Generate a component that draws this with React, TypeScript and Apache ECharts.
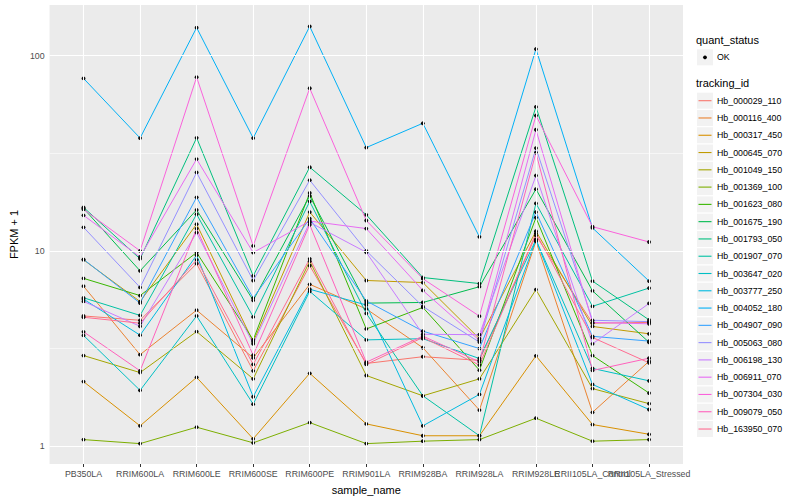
import { useEffect, useRef } from "react";
import * as echarts from "echarts";

const categories = [
  "PB350LA", "RRIM600LA", "RRIM600LE", "RRIM600SE", "RRIM600PE", "RRIM901LA",
  "RRIM928BA", "RRIM928LA", "RRIM928LE", "RRII105LA_Control", "RRII105LA_Stressed",
];

const trackingIds = [
  "Hb_000029_110", "Hb_000116_400", "Hb_000317_450", "Hb_000645_070", "Hb_001049_150",
  "Hb_001369_100", "Hb_001623_080", "Hb_001675_190", "Hb_001793_050", "Hb_001907_070",
  "Hb_003647_020", "Hb_003777_250", "Hb_004052_180", "Hb_004907_090", "Hb_005063_080",
  "Hb_006198_130", "Hb_006911_070", "Hb_007304_030", "Hb_009079_050", "Hb_163950_070",
];

const colors = [
  "#F8766D", "#EA8331", "#D89000", "#C09B00", "#A3A500", "#7CAE00", "#39B600", "#00BB4E",
  "#00BF7D", "#00C1A3", "#00BFC4", "#00BAE0", "#00B0F6", "#35A2FF", "#9590FF", "#C77CFF",
  "#E76BF3", "#FA62DB", "#FF62BC", "#FF6C91",
];

// FPKM + 1 per tracking id, in category order
const hb000029 = [4.64, 4.41, 8.6, 2.43, 8.4, 2.65, 2.87, 2.75, 12.0, 4.26, 4.3];
const hb000116 = [6.59, 2.94, 4.97, 2.83, 6.74, 5.04, 3.19, 1.53, 11.2, 1.49, 2.72];
const hb000317 = [2.14, 1.27, 2.25, 1.09, 2.36, 1.3, 1.13, 1.13, 2.9, 1.29, 1.15];
const hb000645 = [9.0, 5.5, 13.7, 3.42, 15.8, 7.05, 6.88, 3.55, 12.6, 4.1, 3.76];
const hb001049 = [2.91, 2.38, 3.86, 2.21, 8.85, 2.3, 1.81, 2.21, 6.33, 1.97, 1.65];
const hb001369 = [1.08, 1.03, 1.25, 1.04, 1.32, 1.03, 1.06, 1.08, 1.39, 1.06, 1.08];
const hb001623 = [7.23, 5.9, 9.8, 3.5, 19.8, 3.98, 5.13, 2.45, 14.8, 2.91, 1.87];
const hb001675 = [16.5, 7.9, 16.2, 5.58, 19.1, 5.4, 5.44, 6.55, 20.7, 6.24, 3.4];
const hb001793 = [16.7, 9.1, 37.9, 7.45, 26.8, 15.3, 7.3, 6.8, 54.6, 7.0, 4.43];
const hb001907 = [5.75, 4.67, 15.4, 4.59, 17.9, 4.78, 1.81, 1.13, 17.5, 5.2, 6.45];
const hb003647 = [3.69, 1.93, 4.64, 1.64, 6.2, 3.5, 3.55, 2.81, 11.4, 2.5, 2.16];
const hb003777 = [5.66, 3.7, 9.5, 1.79, 6.36, 5.28, 1.27, 1.84, 11.4, 2.07, 1.54];
const hb004052 = [76.4, 37.8, 139, 37.8, 141, 33.8, 45, 11.8, 108, 13.1, 7.0];
const hb004907 = [9.04, 5.4, 18.8, 5.73, 14.6, 5.54, 3.88, 3.16, 15.8, 3.65, 3.45];
const hb005063 = [13.2, 6.5, 25.2, 7.05, 23.0, 10.0, 5.19, 3.41, 33.6, 4.41, 4.34];
const hb006198 = [5.51, 4.11, 12.4, 3.34, 14.0, 9.83, 3.74, 3.72, 24.3, 3.34, 5.38];
const hb006911 = [15.2, 9.3, 29.5, 9.8, 14.2, 13.0, 6.27, 3.48, 41.7, 4.3, 4.23];
const hb007304 = [16.3, 10.0, 77.5, 10.6, 68, 14.3, 7.2, 4.63, 49.3, 13.3, 11.1];
const hb009079 = [3.85, 2.43, 13.0, 2.92, 13.6, 2.69, 3.66, 2.7, 31.8, 2.44, 2.82];
const hb163950 = [4.57, 4.26, 9.0, 2.62, 9.1, 2.62, 3.6, 2.6, 12.3, 3.6, 2.67];

const seriesValues = [
  hb000029, hb000116, hb000317, hb000645, hb001049, hb001369, hb001623, hb001675,
  hb001793, hb001907, hb003647, hb003777, hb004052, hb004907, hb005063, hb006198,
  hb006911, hb007304, hb009079, hb163950,
];

const yTicks = [1, 10, 100];
const yMinor = [3.1623, 31.623];

const FONT = '"Liberation Sans", Arial, Helvetica, sans-serif';

export default function App() {
  const ref = useRef<HTMLDivElement>(null);

  useEffect(() => {
    if (!ref.current) return;
    const chart = echarts.init(ref.current, undefined, { renderer: "svg" });

    const catIdx = categories.map((_, i) => i);
    const evenIdx = catIdx.filter((i) => i % 2 === 0);
    const oddIdx = catIdx.filter((i) => i % 2 === 1);

    const gridSeries: any = {
      type: "line",
      data: [],
      silent: true,
      z: 1,
      markLine: {
        silent: true,
        symbol: "none",
        label: { show: false },
        animation: false,
        data: [
          ...yTicks.map((v) => ({ yAxis: v, lineStyle: { color: "#FFFFFF", width: 1.1, type: "solid" } })),
          ...yMinor.map((v) => ({ yAxis: v, lineStyle: { color: "#FFFFFF", width: 0.55, type: "solid" } })),
          ...catIdx.map((i) => ({ xAxis: i, lineStyle: { color: "#FFFFFF", width: 1.1, type: "solid" } })),
        ],
      },
    };

    const dataSeries = seriesValues.map((vals, k) => ({
      name: trackingIds[k],
      type: "line",
      z: 2,
      data: vals.map((v, i) => [i, v]),
      symbol: "circle",
      symbolSize: 3.8,
      showSymbol: true,
      itemStyle: { color: "#000000" },
      lineStyle: { color: colors[k], width: 1 },
      emphasis: { disabled: true },
    }));

    // legend drawn as graphics
    const legendX = 697;
    const keySize = 16;
    const step = 17.28;
    const firstKeyY = 100.7;
    const legendEls: any[] = [
      {
        type: "text",
        style: { text: "quant_status", x: 696, y: 40, fill: "#000", fontSize: 11, fontFamily: FONT, verticalAlign: "middle" },
      },
      { type: "rect", shape: { x: legendX, y: 57.3 - keySize / 2, width: keySize, height: keySize }, style: { fill: "#F2F2F2" } },
      { type: "circle", shape: { cx: legendX + keySize / 2, cy: 57.3, r: 1.9 }, style: { fill: "#000" } },
      {
        type: "text",
        style: { text: "OK", x: 717, y: 57.3, fill: "#000", fontSize: 8.8, fontFamily: FONT, verticalAlign: "middle" },
      },
      {
        type: "text",
        style: { text: "tracking_id", x: 696, y: 83, fill: "#000", fontSize: 11, fontFamily: FONT, verticalAlign: "middle" },
      },
    ];
    trackingIds.forEach((id, k) => {
      const cy = firstKeyY + k * step;
      legendEls.push(
        { type: "rect", shape: { x: legendX, y: cy - keySize / 2, width: keySize, height: keySize }, style: { fill: "#F2F2F2" } },
        { type: "line", shape: { x1: legendX + 1.5, y1: cy, x2: legendX + keySize - 1.5, y2: cy }, style: { stroke: colors[k], lineWidth: 1.1 } },
        {
          type: "text",
          style: { text: id, x: 717, y: cy, fill: "#000", fontSize: 8.8, fontFamily: FONT, verticalAlign: "middle" },
        }
      );
    });

    const xLabelStyle = {
      formatter: (v: number) => categories[Math.round(v)] ?? "",
      color: "#4D4D4D",
      fontSize: 8.8,
      fontFamily: FONT,
      margin: 5,
      hideOverlap: false,
      showMinLabel: true,
      showMaxLabel: true,
    };
    const xTickStyle = { show: true, length: 3, lineStyle: { color: "#333333", width: 1 } };

    chart.setOption({
      animation: false,
      textStyle: { fontFamily: FONT },
      grid: {
        left: 40,
        right: 117,
        top: 5,
        bottom: 32,
        show: true,
        backgroundColor: "#EBEBEB",
        borderWidth: 0,
      },
      xAxis: [
        {
          type: "value",
          min: -0.6,
          max: 10.6,
          position: "bottom",
          name: "sample_name",
          nameLocation: "middle",
          nameGap: 20,
          nameTextStyle: { color: "#000", fontSize: 11, fontFamily: FONT },
          axisLine: { show: false },
          splitLine: { show: false },
          axisTick: { ...xTickStyle, customValues: evenIdx },
          axisLabel: { ...xLabelStyle, customValues: evenIdx },
        },
        {
          type: "value",
          min: -0.6,
          max: 10.6,
          position: "bottom",
          offset: 0,
          axisLine: { show: false },
          splitLine: { show: false },
          axisTick: { ...xTickStyle, customValues: oddIdx },
          axisLabel: { ...xLabelStyle, customValues: oddIdx },
        },
      ],
      yAxis: {
        type: "log",
        logBase: 10,
        min: 0.81,
        max: 181.5,
        name: "FPKM + 1",
        nameLocation: "middle",
        nameGap: 27,
        nameRotate: 90,
        nameTextStyle: { color: "#000", fontSize: 11, fontFamily: FONT },
        axisLine: { show: false },
        splitLine: { show: false },
        axisTick: { show: true, customValues: yTicks, length: 3, lineStyle: { color: "#333333", width: 1 } },
        axisLabel: {
          customValues: yTicks,
          formatter: (v: number) => (yTicks.some((t) => Math.abs(t - v) < 1e-6 * t) ? String(v) : ""),
          color: "#4D4D4D",
          fontSize: 8.8,
          fontFamily: FONT,
          margin: 5,
          showMinLabel: true,
          showMaxLabel: true,
        },
      },
      graphic: legendEls,
      series: [gridSeries, ...dataSeries],
    });

    return () => chart.dispose();
  }, []);

  return (
    <div
      ref={ref}
      style={{ position: "fixed", left: 0, top: 0, width: 800, height: 500, background: "#FFFFFF" }}
    />
  );
}
